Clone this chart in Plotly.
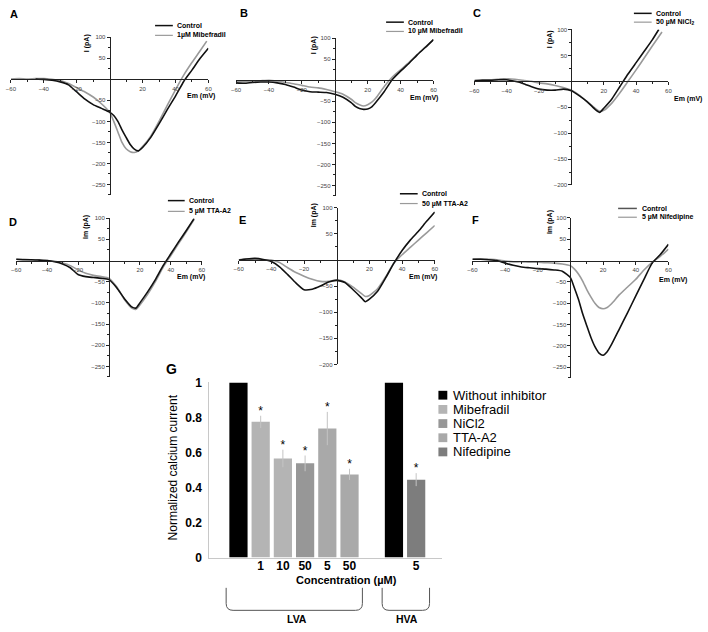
import plotly.graph_objects as go

W, H = 708, 632

# ---------------- data ----------------
# Panel A : Control vs 1 uM Mibefradil
A_v_ctrl = [-45, -40, -35, -30, -25, -20, -15, -10, -5, 0, 2.5, 5, 7.5, 10, 12.5, 15, 17.5, 20, 25, 30, 35, 40, 45, 50, 55, 60]
A_i_ctrl = [1, 0, -2, -6, -13, -30, -47, -60, -69, -78, -86, -100, -120, -138, -155, -166, -170, -162, -138, -106, -72, -40, -5, 22, 50, 74]
A_v_drug = [-60, -55, -50, -45, -40, -35, -30, -25, -20, -15, -10, -5, 0, 2.5, 5, 7.5, 10, 12.5, 15, 17.5, 20, 25, 30, 35, 40, 45, 50, 55, 59]
A_i_drug = [1, 2, 1, 2, 2, 0, -3, -10, -20, -30, -42, -58, -78, -100, -125, -150, -165, -172, -174, -170, -160, -135, -100, -62, -25, 10, 40, 68, 91]

# Panel B : Control vs 10 uM Mibefradil
B_v = [-60, -55, -50, -45, -40, -35, -30, -25, -20, -15, -10, -5, 0, 5, 10, 12.5, 15, 17.5, 20, 22.5, 25, 30, 35, 40, 45, 50, 55, 60]
B_i_ctrl = [-6, -7, -5, -4, -4, -6, -10, -16, -23, -27, -28, -29, -33, -40, -53, -62, -67, -69, -68, -63, -52, -27, 2, 22, 40, 60, 78, 97]
B_i_drug = [-3, -3, -2, -1, 0, -2, -5, -8, -12, -16, -18, -22, -27, -33, -45, -53, -58, -61, -58, -52, -42, -15, 8, 25, 42, 61, 79, 97]

# Panel C : Control vs 50 uM NiCl2
C_v_ctrl = [-60, -55, -50, -45, -40, -35, -30, -25, -20, -15, -10, -5, 0, 5, 10, 15, 17.5, 20, 25, 30, 35, 40, 45, 50, 54]
C_i_ctrl = [1, 2, 2, 3, 3, 0, -4, -10, -15, -17, -17, -15, -18, -28, -40, -55, -60, -52, -34, -10, 14, 36, 58, 80, 100]
C_v_drug = [-60, -55, -50, -45, -40, -35, -30, -25, -20, -15, -10, -5, 0, 5, 10, 15, 17.5, 20, 25, 30, 35, 40, 45, 50, 56]
C_i_drug = [2, 3, 3, 4, 5, 4, 2, 0, -3, -5, -8, -12, -17, -27, -40, -53, -58, -56, -42, -22, 0, 22, 45, 68, 95]

# Panel D : Control vs 5 uM TTA-A2
D_v = [-60, -55, -50, -45, -40, -35, -30, -25, -20, -15, -10, -5, 0, 5, 10, 15, 17.5, 20, 25, 30, 35, 40, 45, 50, 55]
D_i_ctrl = [3, 2, 2, 1, 0, -3, -8, -17, -33, -38, -40, -42, -45, -64, -90, -110, -112, -100, -74, -45, -12, 16, 44, 71, 99]
D_i_drug = [3, 3, 2, 2, 0, -2, -6, -12, -22, -30, -35, -38, -42, -62, -92, -113, -115, -105, -80, -50, -16, 12, 40, 68, 97]

# Panel E : Control vs 50 uM TTA-A2
E_v = [-60, -55, -50, -45, -40, -35, -30, -25, -20, -15, -10, -5, 0, 5, 10, 15, 17.5, 20, 25, 30, 35, 40, 45, 50, 55, 60]
E_i_ctrl = [0, 2, 3, 1, -3, -13, -28, -44, -57, -56, -50, -42, -39, -43, -57, -72, -80, -75, -60, -34, -6, 18, 38, 55, 74, 92]
E_i_drug = [0, 2, 1, 0, 0, -5, -15, -24, -31, -37, -41, -41, -38, -42, -52, -64, -70, -68, -55, -32, -6, 10, 24, 38, 52, 66]

# Panel F : Control vs 5 uM Nifedipine
F_v = [-60, -55, -50, -45, -40, -35, -30, -25, -20, -15, -10, -5, 0, 2.5, 5, 7.5, 10, 12.5, 15, 17.5, 20, 22.5, 25, 30, 35, 40, 45, 50, 55, 60]
F_i_ctrl = [3, 3, 2, 0, -6, -11, -15, -17, -19, -20, -22, -25, -40, -65, -92, -125, -153, -180, -202, -217, -222, -214, -198, -160, -122, -83, -44, -6, 14, 38]
F_i_drug = [3, 4, 3, 2, -1, -3, -3, -4, -4, -5, -6, -8, -12, -20, -32, -48, -68, -85, -100, -110, -113, -110, -102, -80, -62, -44, -22, -4, 10, 27]

IV_xticks = [-60, -40, -20, 20, 40, 60]
IV_xminor = [-50, -30, -10, 10, 30, 50]
IV_yticks_275 = [100, 50, -50, -100, -150, -200, -250]
IV_yticks_200 = [100, 50, -50, -100, -150, -200]

# Panel G : normalized calcium current
G_series = ["Without inhibitor", "Mibefradil", "NiCl2", "TTA-A2", "Nifedipine"]
G_pos = {"Without inhibitor": [0, 7], "Mibefradil": [1, 2], "NiCl2": [3], "TTA-A2": [4, 5], "Nifedipine": [8]}
G_val = {"Without inhibitor": [1.0, 1.0], "Mibefradil": [0.775, 0.566], "NiCl2": [0.538], "TTA-A2": [0.737, 0.475], "Nifedipine": [0.445]}
G_err = {"Without inhibitor": [0, 0], "Mibefradil": [0.035, 0.05], "NiCl2": [0.045], "TTA-A2": [0.095, 0.032], "Nifedipine": [0.037]}
G_tick_pos = [1, 2, 3, 4, 5, 8]
G_tick_txt = ["1", "10", "50", "5", "50", "5"]
G_yticks = [0, 0.2, 0.4, 0.6, 0.8, 1]
G_ytick_txt = ["0", "0.2", "0.4", "0.6", "0.8", "1"]

# ---------------- styling / layout ----------------
FONT = "Liberation Sans, Arial, sans-serif"
G_colors = {"Without inhibitor": "#000000", "Mibefradil": "#b4b4b4", "NiCl2": "#979797",
            "TTA-A2": "#a9a9a9", "Nifedipine": "#7d7d7d"}
CTRL_COLOR = "#111111"
DRUG_COLOR = "#9a9a9a"


def fx(x):
    return x / W


def fy(y):
    return 1 - y / H


panels = [
    dict(n=1, letter="A", xz=106, x60=206, y100=31, y0=74, ymin=-275, yt=IV_yticks_275,
         ctrl=(A_v_ctrl, A_i_ctrl), drug=(A_v_drug, A_i_drug), ytitle="I (pA)",
         ylab=(83, 37), xlab=(199, 91), lp=(3, 7),
         leg=dict(x0=152, x1=170, y1=19, y2=29, tx=172, t2="1µM Mibefradil")),
    dict(n=2, letter="B", xz=334, x60=434, y100=32, y0=75, ymin=-275, yt=IV_yticks_275,
         ctrl=(B_v, B_i_ctrl), drug=(B_v, B_i_drug), ytitle="I (pA)",
         ylab=(313, 39), xlab=(424, 93), lp=(236, 6),
         leg=dict(x0=386, x1=404, y1=15.5, y2=25, tx=406, t2="10 µM Mibefradil")),
    dict(n=3, letter="C", xz=573.7, x60=672, y100=23, y0=76, ymin=-200, yt=IV_yticks_200,
         ctrl=(C_v_ctrl, C_i_ctrl), drug=(C_v_drug, C_i_drug), ytitle="I (pA)",
         ylab=(552, 33), xlab=(692, 94), lp=(472, 6),
         leg=dict(x0=637, x1=655, y1=6.5, y2=15.5, tx=657, t2="50 µM NiCl<sub>2</sub>")),
    dict(n=4, letter="D", xz=105.3, x60=199.3, y100=216, y0=259.3, ymin=-275, yt=IV_yticks_275,
         ctrl=(D_v, D_i_ctrl), drug=(D_v, D_i_drug), ytitle="Im (pA)",
         ylab=(82, 225), xlab=(188, 276), lp=(2, 220),
         leg=dict(x0=165, x1=182, y1=198, y2=209, tx=184, t2="5 µM TTA-A2")),
    dict(n=5, letter="E", xz=336, x60=435.3, y100=205.3, y0=258.7, ymin=-200, yt=IV_yticks_200,
         ctrl=(E_v, E_i_ctrl), drug=(E_v, E_i_drug), ytitle="Im (pA)",
         ylab=(313, 213), xlab=(423, 276), lp=(235, 218),
         leg=dict(x0=400, x1=418, y1=191, y2=201, tx=420, t2="50 µM TTA-A2")),
    dict(n=6, letter="F", xz=572.7, x60=672, y100=215.7, y0=259.3, ymin=-275, yt=IV_yticks_275,
         ctrl=(F_v, F_i_ctrl), drug=(F_v, F_i_drug), ytitle="Im (pA)",
         ylab=(552, 220), xlab=(677, 279), lp=(471, 218),
         leg=dict(x0=621, x1=640, y1=206, y2=215, tx=643, t2="5 µM Nifedipine", cc="#555555")),
]

fig = go.Figure()
layout = dict(width=W, height=H, margin=dict(l=0, r=0, t=0, b=0),
              paper_bgcolor="white", plot_bgcolor="white",
              font=dict(family=FONT, color="#000"), showlegend=False)
shapes = []
annotations = []

for p in panels:
    n = p["n"]
    xa, ya = f"x{n}", f"y{n}"
    ppu = (p["y0"] - p["y100"]) / 100.0
    ybot = p["y0"] - p["ymin"] * ppu
    half = p["x60"] - p["xz"]
    layout[f"xaxis{n}"] = dict(
        domain=[fx(p["xz"] - half), fx(p["x60"])], range=[-60, 60], anchor="free",
        position=fy(p["y0"]), showline=True, linecolor="#222", linewidth=1,
        tickmode="array", tickvals=IV_xticks, ticks="outside", ticklen=3, tickcolor="#222",
        tickfont=dict(size=6, color="#444"), showgrid=False, zeroline=False,
        minor=dict(tickmode="array", tickvals=IV_xminor, ticks="outside", ticklen=2, tickcolor="#222"))
    layout[f"yaxis{n}"] = dict(
        domain=[fy(ybot), fy(p["y100"])], range=[p["ymin"], 100], anchor="free",
        position=fx(p["xz"]), showline=True, linecolor="#222", linewidth=1,
        tickmode="array", tickvals=p["yt"], ticks="outside", ticklen=3, tickcolor="#222",
        tickfont=dict(size=6, color="#444"), showgrid=False, zeroline=False,
        minor=dict(tickmode="array", tickvals=[t - 25 for t in p["yt"]], ticks="outside",
                   ticklen=2, tickcolor="#222"))
    for (vv, ii), col in ((p["drug"], DRUG_COLOR), (p["ctrl"], CTRL_COLOR)):
        fig.add_trace(go.Scatter(x=vv, y=ii, xaxis=xa, yaxis=ya, mode="lines",
                                 line=dict(color=col, width=1.6, shape="spline", smoothing=0.5),
                                 showlegend=False, hoverinfo="skip"))
    annotations.append(dict(x=fx(p["ylab"][0]), y=fy(p["ylab"][1]), xref="paper", yref="paper",
                            text=p["ytitle"], textangle=-90, showarrow=False,
                            font=dict(size=7, weight="bold"), xanchor="center", yanchor="middle"))
    annotations.append(dict(x=fx(p["xlab"][0]), y=fy(p["xlab"][1]), xref="paper", yref="paper",
                            text="Em (mV)", showarrow=False,
                            font=dict(size=7, weight="bold"), xanchor="center", yanchor="middle"))
    annotations.append(dict(x=fx(p["lp"][0]), y=fy(p["lp"][1]), xref="paper", yref="paper",
                            text=p["letter"], showarrow=False, xanchor="left", yanchor="middle",
                            font=dict(size=11, weight="bold")))
    lg = p["leg"]
    for yy, txt, col, wd in ((lg["y1"], "Control", lg.get("cc", CTRL_COLOR), 1.5),
                             (lg["y2"], lg["t2"], DRUG_COLOR, 1.2)):
        shapes.append(dict(type="line", xref="paper", yref="paper", x0=fx(lg["x0"]), x1=fx(lg["x1"]),
                           y0=fy(yy), y1=fy(yy), line=dict(color=col, width=wd)))
        annotations.append(dict(x=fx(lg["tx"]), y=fy(yy), xref="paper", yref="paper", text=txt,
                                showarrow=False, xanchor="left", yanchor="middle",
                                font=dict(size=7, weight="bold")))

# ---------------- panel G ----------------
for s in G_series:
    errs = G_err[s]
    fig.add_trace(go.Bar(x=G_pos[s], y=G_val[s], name=s, xaxis="x7", yaxis="y7", width=0.82,
                         marker=dict(color=G_colors[s], line=dict(width=0)),
                         error_y=dict(type="data", array=errs, visible=any(e > 0 for e in errs),
                                      color="#c4c4c4", thickness=1, width=0),
                         showlegend=False, hoverinfo="skip"))
star_x, star_y = [], []
for s in G_series:
    for xpos, v, e in zip(G_pos[s], G_val[s], G_err[s]):
        if e > 0:
            star_x.append(xpos)
            star_y.append(v + e + 0.022)
fig.add_trace(go.Scatter(x=star_x, y=star_y, mode="text", text=["*"] * len(star_x),
                         textposition="middle center", xaxis="x7", yaxis="y7",
                         textfont=dict(size=12, color="#000"), showlegend=False, hoverinfo="skip"))

layout["xaxis7"] = dict(domain=[fx(207), fx(443)], range=[-1.31, 9.18], anchor="y7",
                        showline=True, linecolor="#c8c8c8", linewidth=1, ticks="",
                        tickmode="array", tickvals=G_tick_pos, ticktext=G_tick_txt,
                        ticklabelstandoff=-3,
                        tickfont=dict(size=12, weight="bold"), showgrid=False, zeroline=False)
layout["yaxis7"] = dict(domain=[fy(563), fy(384)], range=[0, 1], anchor="x7",
                        showline=True, linecolor="#c8c8c8", linewidth=1, ticks="",
                        tickmode="array", tickvals=G_yticks, ticktext=G_ytick_txt,
                        ticklabelstandoff=4,
                        tickfont=dict(size=12, weight="bold"), showgrid=False, zeroline=False)

# legend of panel G (drawn as swatches + labels)
G_leg_rows = [397, 411.5, 426, 440.5, 455]
for s, yy in zip(G_series, G_leg_rows):
    shapes.append(dict(type="rect", xref="paper", yref="paper", x0=fx(439), x1=fx(448),
                       y0=fy(yy + 4.5), y1=fy(yy - 4.5), fillcolor=G_colors[s], line=dict(width=0)))
    annotations.append(dict(x=fx(452), y=fy(yy), xref="paper", yref="paper", text=s, showarrow=False,
                            xanchor="left", yanchor="middle", font=dict(size=13, color="#000")))

annotations.append(dict(x=fx(169), y=fy(370), xref="paper", yref="paper", text="G", showarrow=False,
                        xanchor="center", yanchor="middle", font=dict(size=14, weight="bold")))
annotations.append(dict(x=fx(346), y=fy(585.5), xref="paper", yref="paper", text="Concentration (µM)",
                        showarrow=False, xanchor="center", yanchor="middle",
                        font=dict(size=11, weight="bold")))
annotations.append(dict(x=fx(170), y=fy(471), xref="paper", yref="paper",
                        text="Normalized calcium current", showarrow=False, textangle=-90,
                        xanchor="center", yanchor="middle", font=dict(size=12)))


def bracket(xl, xr, yt, yb, r=7):
    pts = [f"M {fx(xl)},{fy(yt)}", f"L {fx(xl)},{fy(yb - r)}",
           f"Q {fx(xl)},{fy(yb)} {fx(xl + r)},{fy(yb)}", f"L {fx(xr - r)},{fy(yb)}",
           f"Q {fx(xr)},{fy(yb)} {fx(xr)},{fy(yb - r)}", f"L {fx(xr)},{fy(yt)}"]
    return dict(type="path", xref="paper", yref="paper", path=" ".join(pts),
                line=dict(color="#555", width=1))


shapes.append(bracket(224, 362, 594, 617))
shapes.append(bracket(382, 430, 594, 617))
annotations.append(dict(x=fx(296), y=fy(625.5), xref="paper", yref="paper", text="LVA", showarrow=False,
                        font=dict(size=10.5, weight="bold"), xanchor="center", yanchor="middle"))
annotations.append(dict(x=fx(407), y=fy(625.5), xref="paper", yref="paper", text="HVA", showarrow=False,
                        font=dict(size=10.5, weight="bold"), xanchor="center", yanchor="middle"))

layout["shapes"] = shapes
layout["annotations"] = annotations
fig.update_layout(**layout)
fig.write_html("out.html", config={"displayModeBar": False},
               post_script="document.body.style.margin='0px';document.body.style.overflow='hidden';")
